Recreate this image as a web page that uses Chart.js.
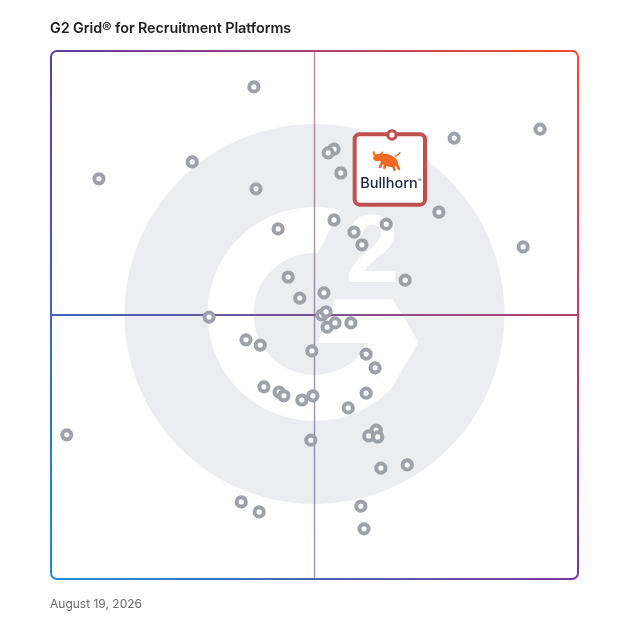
<!DOCTYPE html>
<html>
<head>
<meta charset="utf-8">
<title>G2 Grid for Recruitment Platforms</title>
<script src="https://cdn.jsdelivr.net/npm/chart.js@4.4.1/dist/chart.umd.min.js"></script>
<style>
    html, body { margin: 0; padding: 0; background: #fff; }
    #wrap { position: relative; width: 628px; height: 628px; font-family: Inter, "Noto Sans", sans-serif; }
    #gridTitle { position: absolute; left: 50px; top: 19px; font-size: 14.4px; font-weight: 600; color: #222; white-space: nowrap; letter-spacing: -0.1px; }
    #gridDate { position: absolute; left: 50px; top: 596px; font-size: 12px; color: #6b6b6b; white-space: nowrap; }
    #gridChart { position: absolute; left: 0; top: 0; }
</style>
</head>
<body>
<div id="wrap">
    <canvas id="gridChart" width="628" height="628"></canvas>
    <div id="gridTitle">G2 Grid® for Recruitment Platforms</div>
    <div id="gridDate">August 19, 2026</div>
</div>
<script>
// 坐标轴范围（满意度 / 市场占有率，0-100，中线为 50）
const axisMin = 0;
const axisMax = 100;
const axisMid = 50;

// 其他产品（灰色圆环）
const satisfaction = [
    38.5, 92.8, 76.5, 53.7, 52.6, 26.8, 9.1, 55.0, 38.9, 73.6,
    53.7, 43.1, 63.6, 57.5, 59.0, 89.6, 45.0, 67.2, 51.8, 47.2,
    30.0, 51.4, 52.2, 52.4, 53.9, 56.9, 37.0, 39.7, 49.5, 59.8,
    61.5, 40.4, 43.3, 44.2, 47.6, 49.7, 59.8, 56.4, 3.0, 49.3,
    61.7, 60.3, 62.0, 62.6, 67.6, 36.1, 39.5, 58.8, 59.4
];
const marketPresence = [
    93.2, 85.2, 83.5, 81.4, 80.7, 79.0, 75.8, 76.9, 73.9, 69.5,
    68.0, 66.3, 67.2, 65.7, 63.3, 62.9, 57.2, 56.6, 54.2, 53.2,
    49.6, 50.0, 50.6, 47.7, 48.5, 48.5, 45.3, 44.3, 43.2, 42.6,
    40.0, 36.4, 35.4, 34.7, 33.9, 34.7, 35.2, 32.4, 27.3, 26.3,
    28.2, 27.1, 26.9, 21.0, 21.6, 14.6, 12.7, 13.8, 9.5
];

// 高亮产品
const featuredName = 'Bullhorn';
const featuredX = [64.7];
const featuredY = [84.1];

// 边框四角颜色
const frameColors = {
    topLeft: '#5b3ba8',
    topRight: '#f74b30',
    bottomLeft: '#1e90d8',
    bottomRight: '#7b36a0'
};

// 生成双线性渐变（四角插值）作为描边图案
function buildFramePaint(chart) {
    const a = chart.chartArea;
    const w = chart.width, h = chart.height;

    const upper = document.createElement('canvas');
    upper.width = w; upper.height = h;
    const uc = upper.getContext('2d');
    let g = uc.createLinearGradient(a.left, 0, a.right, 0);
    g.addColorStop(0, frameColors.topLeft);
    g.addColorStop(1, frameColors.topRight);
    uc.fillStyle = g;
    uc.fillRect(0, 0, w, h);
    uc.globalCompositeOperation = 'destination-in';
    g = uc.createLinearGradient(0, a.top, 0, a.bottom);
    g.addColorStop(0, 'rgba(0,0,0,1)');
    g.addColorStop(1, 'rgba(0,0,0,0)');
    uc.fillStyle = g;
    uc.fillRect(0, 0, w, h);

    const out = document.createElement('canvas');
    out.width = w; out.height = h;
    const oc = out.getContext('2d');
    g = oc.createLinearGradient(a.left, 0, a.right, 0);
    g.addColorStop(0, frameColors.bottomLeft);
    g.addColorStop(1, frameColors.bottomRight);
    oc.fillStyle = g;
    oc.fillRect(0, 0, w, h);
    oc.drawImage(upper, 0, 0);

    return chart.ctx.createPattern(out, 'no-repeat');
}

// 背景 G2 水印
function drawWatermark(ctx, cx, cy) {
    const rad = d => d * Math.PI / 180;
    ctx.save();
    ctx.fillStyle = '#ebedf0';
    ctx.beginPath();
    ctx.arc(cx, cy, 190, 0, Math.PI * 2);
    ctx.fill();

    ctx.fillStyle = '#ffffff';
    // G 的圆弧部分
    ctx.beginPath();
    ctx.arc(cx, cy, 107, rad(-76), rad(45), true);
    ctx.arc(cx, cy, 61, rad(45), rad(-87), false);
    ctx.closePath();
    ctx.fill();

    // G 的横杠 + 箭头
    const pts = [[21, -15], [78, -15], [104, 28], [76, 76], [43, 43], [54, 29], [3, 29]];
    ctx.beginPath();
    pts.forEach((p, i) => {
        if (i === 0) ctx.moveTo(cx + p[0], cy + p[1]); else ctx.lineTo(cx + p[0], cy + p[1]);
    });
    ctx.closePath();
    ctx.fill();

    // 上标 2
    ctx.font = 'bold 96px "Liberation Sans", Arial, sans-serif';
    ctx.textAlign = 'center';
    ctx.textBaseline = 'alphabetic';
    ctx.fillText('2', cx + 58, cy - 32);
    ctx.restore();
}

// 简化的 Bullhorn 公牛标志
function drawBull(ctx, x, y) {
    ctx.save();
    ctx.fillStyle = '#f26a21';
    ctx.strokeStyle = '#f26a21';
    ctx.lineCap = 'round';
    ctx.beginPath();
    ctx.ellipse(x + 16, y + 8.5, 10, 5.8, 0.42, 0, Math.PI * 2);
    ctx.fill();
    ctx.beginPath();
    ctx.ellipse(x + 5.5, y + 5.5, 4.8, 3.6, -0.25, 0, Math.PI * 2);
    ctx.fill();
    ctx.lineWidth = 1.8;
    ctx.beginPath();
    ctx.moveTo(x + 3, y + 4); ctx.quadraticCurveTo(x + 0.5, y + 2, x + 1.5, y + 0);
    ctx.moveTo(x + 7.5, y + 3.5); ctx.quadraticCurveTo(x + 9, y + 1.5, x + 10, y + 0.5);
    ctx.stroke();
    ctx.lineWidth = 2.6;
    ctx.beginPath();
    ctx.moveTo(x + 10, y + 10); ctx.lineTo(x + 7.5, y + 15);
    ctx.moveTo(x + 13, y + 11); ctx.lineTo(x + 12, y + 16);
    ctx.moveTo(x + 20, y + 12); ctx.lineTo(x + 22, y + 18);
    ctx.moveTo(x + 23.5, y + 11); ctx.lineTo(x + 26.5, y + 17);
    ctx.stroke();
    ctx.lineWidth = 1.4;
    ctx.beginPath();
    ctx.moveTo(x + 23, y + 4); ctx.quadraticCurveTo(x + 26, y + 3.5, x + 27.5, y + 0.5);
    ctx.stroke();
    ctx.restore();
}

const gridBackground = {
    id: 'gridBackground',
    beforeDatasetsDraw(chart) {
        const ctx = chart.ctx;
        const a = chart.chartArea;
        const midX = chart.scales.x.getPixelForValue(axisMid);
        const midY = chart.scales.y.getPixelForValue(axisMid);

        drawWatermark(ctx, (a.left + a.right) / 2, (a.top + a.bottom) / 2 - 1);

        const paint = buildFramePaint(chart);
        ctx.save();
        ctx.strokeStyle = paint;
        ctx.lineWidth = 2;
        ctx.beginPath();
        ctx.roundRect(a.left, a.top, a.right - a.left, a.bottom - a.top, 6);
        ctx.stroke();

        // 象限分隔线
        ctx.lineWidth = 1.8;
        ctx.beginPath();
        ctx.moveTo(a.left, midY);
        ctx.lineTo(a.right, midY);
        ctx.stroke();
        ctx.globalAlpha = 0.65;
        ctx.lineWidth = 1.4;
        ctx.beginPath();
        ctx.moveTo(midX, a.top);
        ctx.lineTo(midX, a.bottom);
        ctx.stroke();
        ctx.restore();
    },
    beforeDatasetDraw(chart, args) {
        if (args.index !== 1) return;
        const pt = chart.getDatasetMeta(1).data[0];
        if (!pt) return;
        const ctx = chart.ctx;
        const px = pt.x, py = pt.y;
        ctx.save();
        ctx.fillStyle = '#ffffff';
        ctx.strokeStyle = '#c0504f';
        ctx.lineWidth = 4;
        ctx.beginPath();
        ctx.roundRect(px - 37.3, py - 0.7, 70.3, 70.4, 5);
        ctx.fill();
        ctx.stroke();

        drawBull(ctx, px - 19.5, py + 17);

        ctx.fillStyle = '#1c2541';
        ctx.font = '500 14.5px Inter, "Noto Sans", sans-serif';
        ctx.textAlign = 'center';
        ctx.textBaseline = 'alphabetic';
        ctx.fillText(featuredName, px - 3, py + 53.5);
        const tw = ctx.measureText(featuredName).width;
        ctx.font = '5px Inter, sans-serif';
        ctx.textAlign = 'left';
        ctx.fillText('®', px - 3 + tw / 2 + 0.5, py + 47);
        ctx.restore();
    }
};

const ctx = document.getElementById('gridChart');

new Chart(ctx, {
    type: 'scatter',
    data: {
        datasets: [
            {
                label: 'Products',
                data: satisfaction.map((x, i) => ({ x: x, y: marketPresence[i] })),
                pointRadius: 4.6,
                pointBorderWidth: 4,
                pointBorderColor: '#9ca1ac',
                pointBackgroundColor: '#ffffff',
                clip: false
            },
            {
                label: featuredName,
                data: featuredX.map((x, i) => ({ x: x, y: featuredY[i] })),
                pointRadius: 4.2,
                pointBorderWidth: 3.2,
                pointBorderColor: '#c0504f',
                pointBackgroundColor: '#ffffff',
                clip: false
            }
        ]
    },
    options: {
        responsive: false,
        animation: false,
        events: [],
        layout: {
            padding: { left: 51, top: 51, right: 50, bottom: 49 }
        },
        plugins: {
            legend: { display: false },
            tooltip: { enabled: false },
            title: { display: false }
        },
        scales: {
            x: { type: 'linear', min: axisMin, max: axisMax, display: false },
            y: { type: 'linear', min: axisMin, max: axisMax, display: false }
        }
    },
    plugins: [gridBackground]
});
</script>
</body>
</html>
